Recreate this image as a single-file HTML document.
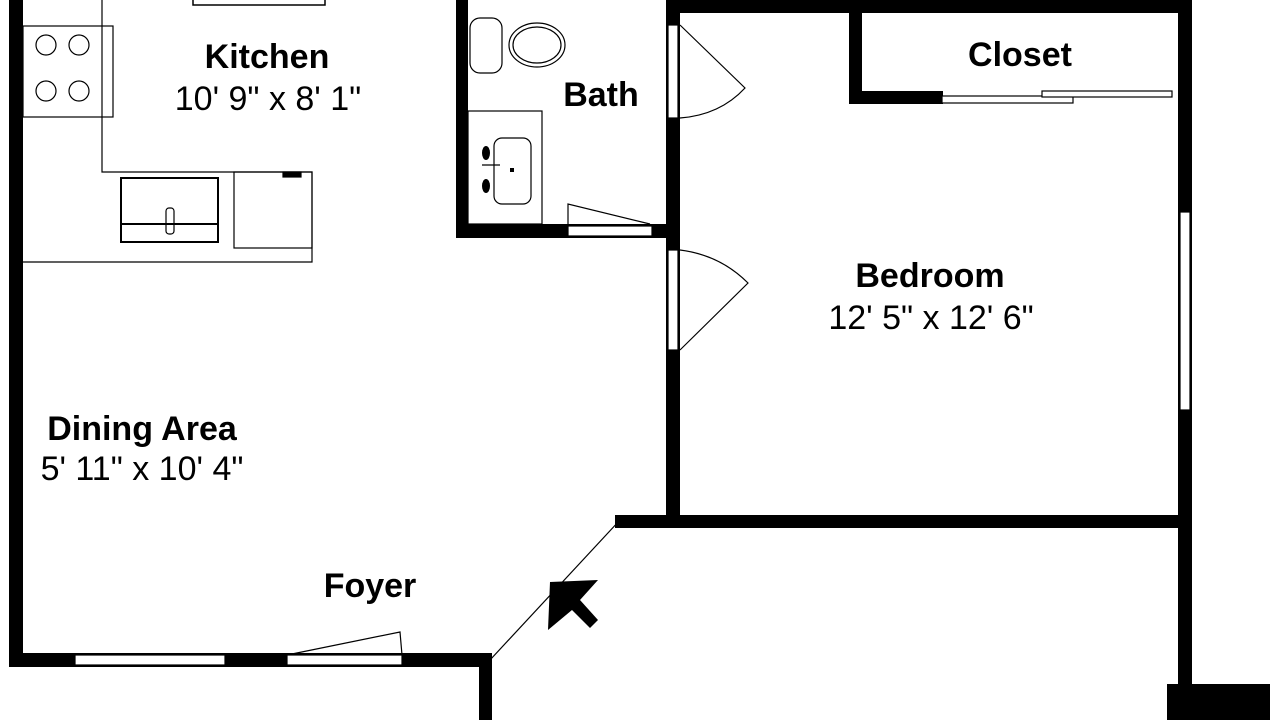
<!DOCTYPE html>
<html><head><meta charset="utf-8"><style>
html,body{margin:0;padding:0;background:#fff;width:1280px;height:720px;overflow:hidden}
svg{display:block}
text{font-family:"Liberation Sans",Arial,sans-serif;fill:#000}
.b{font-weight:bold;font-size:34px}
.n{font-size:34px}
</style></head><body>
<svg width="1280" height="720" viewBox="0 0 1280 720" xmlns="http://www.w3.org/2000/svg">
<g fill="#000">
<rect x="9" y="0" width="14" height="667"/>
<rect x="9" y="653" width="483" height="14"/>
<rect x="479" y="653" width="13" height="67"/>
<rect x="666" y="0" width="14" height="528"/>
<rect x="615" y="515" width="577" height="13"/>
<rect x="666" y="0" width="526" height="13"/>
<rect x="1178" y="0" width="14" height="685"/>
<rect x="849" y="12" width="13" height="92"/>
<rect x="849" y="91" width="94" height="13"/>
<rect x="456" y="0" width="12" height="238"/>
<rect x="456" y="224" width="224" height="14"/>
<rect x="1167" y="684" width="103" height="36"/>
</g>
<g fill="#fff" stroke="#000" stroke-width="1.2">
<rect x="75" y="655" width="150" height="10"/>
<rect x="287" y="655" width="115" height="10"/>
<rect x="668" y="25" width="10" height="93"/>
<rect x="668" y="250" width="10" height="100"/>
<rect x="1180" y="212" width="10" height="198"/>
<rect x="568" y="226" width="84" height="10"/>
<rect x="942" y="96" width="131" height="7"/>
<rect x="1042" y="91" width="130" height="6"/>
</g>
<g fill="none" stroke="#000" stroke-width="1.2">
<path d="M287 655 L400 632 L402 655"/>
<path d="M680 25 L745 88 Q720 115 680 118"/>
<path d="M680 250 Q720 255 748 283 L680 350"/>
<path d="M568 226 L568 204 L650 224"/>
<line x1="490" y1="660" x2="620" y2="520"/>
<rect x="193" y="-2" width="132" height="7" stroke-width="1.5"/>
<path d="M102 0 V172 H312 V262 H22"/>
<rect x="23" y="26" width="90" height="91"/>
<circle cx="46" cy="45" r="10"/><circle cx="79" cy="45" r="10"/>
<circle cx="46" cy="91" r="10"/><circle cx="79" cy="91" r="10"/>
<rect x="121" y="178" width="97" height="64" stroke-width="2"/>
<line x1="121" y1="224" x2="218" y2="224" stroke-width="2"/>
<rect x="166" y="208" width="8" height="26" rx="3"/>
<rect x="234" y="172" width="78" height="76"/>
<rect x="283" y="172" width="18" height="5" fill="#000"/>
<rect x="468" y="111" width="74" height="113"/>
<rect x="494" y="138" width="37" height="66" rx="8"/>
<rect x="470" y="18" width="32" height="55" rx="10"/>
<ellipse cx="537" cy="45" rx="28" ry="22"/>
<ellipse cx="537" cy="45" rx="24" ry="18"/>
<path d="M482 165 H500"/>
</g>
<g fill="#000">
<ellipse cx="486" cy="153" rx="4" ry="7"/>
<ellipse cx="486" cy="186" rx="4" ry="7"/>
<rect x="510" y="168" width="4" height="4"/>
<path d="M548 630 L550 582 L598 580 L580 600 L598 620 L590 628 L572 610 Z"/>
</g>
<text class="b" x="267" y="68" text-anchor="middle">Kitchen</text>
<text class="n" x="268" y="110" text-anchor="middle">10' 9" x 8' 1"</text>
<text class="b" x="601" y="106" text-anchor="middle">Bath</text>
<text class="b" x="1020" y="66" text-anchor="middle">Closet</text>
<text class="b" x="930" y="287" text-anchor="middle">Bedroom</text>
<text class="n" x="931" y="329" text-anchor="middle">12' 5" x 12' 6"</text>
<text class="b" x="142" y="440" text-anchor="middle">Dining Area</text>
<text class="n" x="142" y="480" text-anchor="middle">5' 11" x 10' 4"</text>
<text class="b" x="370" y="597" text-anchor="middle">Foyer</text>
</svg>
</body></html>
